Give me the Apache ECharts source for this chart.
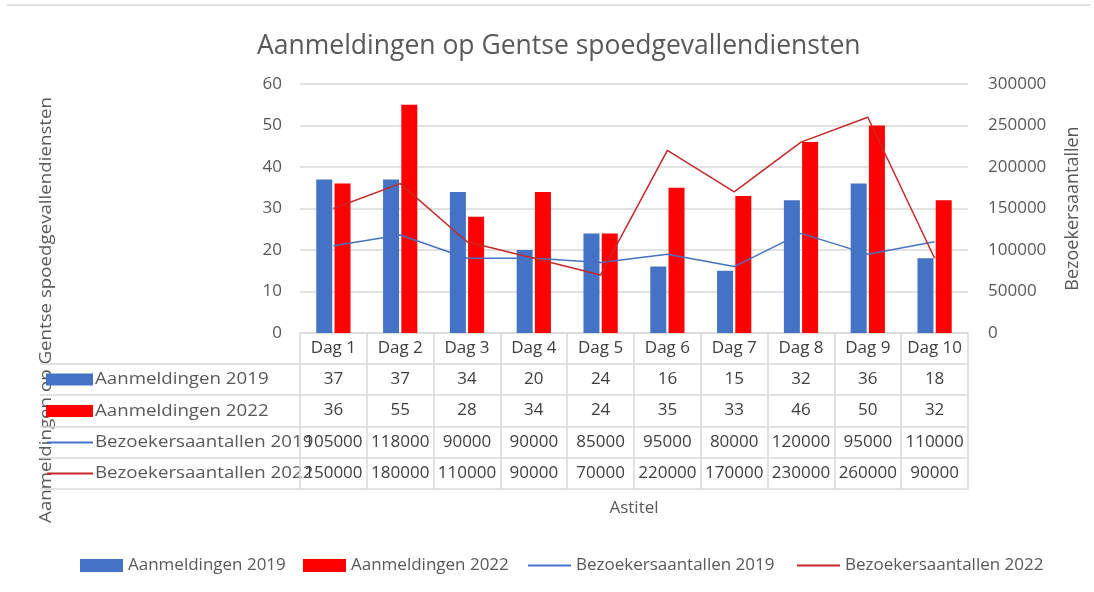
<!DOCTYPE html>
<html>
<head>
<meta charset="utf-8">
<script src="https://cdn.jsdelivr.net/npm/echarts@6/dist/echarts.min.js"></script>
<style>
  html, body { margin: 0; padding: 0; background: #fff; }
  #chart { width: 1094px; height: 592px; }
</style>
</head>
<body>
<div id="chart"></div>
<script>
// data
var days = ['Dag 1', 'Dag 2', 'Dag 3', 'Dag 4', 'Dag 5', 'Dag 6', 'Dag 7', 'Dag 8', 'Dag 9', 'Dag 10'];
var aanm2019 = [37, 37, 34, 20, 24, 16, 15, 32, 36, 18];
var aanm2022 = [36, 55, 28, 34, 24, 35, 33, 46, 50, 32];
var bez2019 = [105000, 118000, 90000, 90000, 85000, 95000, 80000, 120000, 95000, 110000];
var bez2022 = [150000, 180000, 110000, 90000, 70000, 220000, 170000, 230000, 260000, 90000];
var seriesNames = ['Aanmeldingen 2019', 'Aanmeldingen 2022', 'Bezoekersaantallen 2019', 'Bezoekersaantallen 2022'];
var tableRows = [aanm2019, aanm2022, bez2019, bez2022];

var FONT = '"Open Sans", "Noto Sans", sans-serif';
var TXT = '#595959';
var LINE = '#d9d9d9';
var colors = ['#4472c4', '#ff0000', '#4472c4', '#c62828'];

var chart = echarts.init(document.getElementById('chart'));

// layout of plot + data table
var gLeft = 300, gRight = 968, gTop = 84, gBottom = 333;
var rowOffsets = [31, 62, 94, 125, 156]; // bottom edge of each table row, from axis line

// one category axis per table row, labels are the cell values
var xAxes = [{
    type: 'category',
    data: days,
    position: 'bottom',
    axisLine: {onZero: false, lineStyle: {color: LINE, width: 1.5}},
    axisTick: {show: true, interval: 0, length: rowOffsets[0], lineStyle: {color: LINE, width: 1.5}},
    axisLabel: {interval: 0, margin: 7, color: '#404040', fontSize: 17, fontFamily: FONT}
}];
tableRows.forEach(function (row, r) {
    xAxes.push({
        type: 'category',
        data: days,
        position: 'bottom',
        offset: rowOffsets[r],
        axisLine: {onZero: false, lineStyle: {color: LINE, width: 1.5}},
        axisTick: {show: true, interval: 0, length: rowOffsets[r + 1] - rowOffsets[r], lineStyle: {color: LINE, width: 1.5}},
        axisLabel: {
            interval: 0, margin: 7, color: '#404040', fontSize: 17, fontFamily: FONT,
            formatter: function (v, i) { return String(row[i]); }
        }
    });
});
xAxes.push({
    type: 'category',
    data: days,
    position: 'bottom',
    offset: rowOffsets[4],
    axisLine: {onZero: false, lineStyle: {color: LINE, width: 1.5}},
    axisTick: {show: false},
    axisLabel: {show: false}
});

// table row headers + borders on the left side
var graphics = [
    {type: 'line', shape: {x1: 7, y1: 5, x2: 1090, y2: 5}, style: {stroke: '#e4e4e4', lineWidth: 2}},
    {type: 'text', x: 46, y: 310, rotation: Math.PI / 2, scaleX: 1.1,
        style: {text: 'Aanmeldingen op Gentse spoedgevallendiensten', fill: TXT, font: '17px ' + FONT, align: 'center', verticalAlign: 'middle'}},
    {type: 'text', x: 634, y: 508,
        style: {text: 'Astitel', fill: TXT, font: '17px ' + FONT, align: 'center', verticalAlign: 'middle'}}
];
var rowTops = [0].concat(rowOffsets);
for (var r = 0; r < 4; r++) {
    var yTop = gBottom + rowTops[r + 1];
    var yBot = gBottom + rowTops[r + 2];
    var yMid = (yTop + yBot) / 2;
    graphics.push({type: 'line', shape: {x1: 40, y1: yTop, x2: gLeft, y2: yTop}, style: {stroke: LINE, lineWidth: 1.5}});
    if (r < 2) {
        graphics.push({type: 'rect', shape: {x: 46, y: yMid - 6, width: 47, height: 12}, style: {fill: colors[r]}});
    } else {
        graphics.push({type: 'line', shape: {x1: 47, y1: yMid, x2: 93, y2: yMid}, style: {stroke: colors[r], lineWidth: 2}});
    }
    graphics.push({type: 'text', x: 95, y: yMid, scaleX: 1.1,
        style: {text: seriesNames[r], fill: TXT, font: '17px ' + FONT, verticalAlign: 'middle'}});
}
graphics.push({type: 'line', shape: {x1: 40, y1: gBottom + rowOffsets[4], x2: gLeft, y2: gBottom + rowOffsets[4]}, style: {stroke: LINE, lineWidth: 1.5}});

// one legend per item, so each key sits where it does in the original
var legendLefts = [80, 303, 528, 797];
var lineIcon = 'path://M0,0 M0,13 M0,5.6 L43,5.6 L43,7.4 L0,7.4 Z';
var legends = seriesNames.map(function (name, i) {
    return {
        left: legendLefts[i],
        top: 557,
        padding: 0,
        itemWidth: 43,
        itemHeight: 13,
        textStyle: {color: TXT, fontSize: 17, fontFamily: FONT},
        data: [{name: name, icon: i < 2 ? 'rect' : lineIcon}]
    };
});

var option = {
    backgroundColor: '#fff',
    textStyle: {fontFamily: FONT},
    title: {
        text: 'Aanmeldingen op Gentse spoedgevallendiensten',
        left: 252,
        top: 28,
        textStyle: {color: TXT, fontSize: 26.5, fontWeight: 'normal', fontFamily: FONT}
    },
    legend: legends,
    grid: {left: gLeft, right: 1094 - gRight, top: gTop, bottom: 592 - gBottom},
    xAxis: xAxes,
    yAxis: [{
        type: 'value',
        min: 0, max: 60, interval: 10,
        axisLine: {show: false},
        axisTick: {show: false},
        axisLabel: {color: TXT, fontSize: 17, margin: 18, fontFamily: FONT},
        splitLine: {lineStyle: {color: LINE, width: 1.5}}
    }, {
        type: 'value',
        min: 0, max: 300000, interval: 50000,
        position: 'right',
        name: 'Bezoekersaantallen',
        nameLocation: 'middle',
        nameRotate: 90,
        nameGap: 96,
        nameTextStyle: {color: TXT, fontSize: 18, fontFamily: FONT},
        axisLine: {show: false},
        axisTick: {show: false},
        axisLabel: {
            color: TXT, fontSize: 17, margin: 20, fontFamily: FONT,
            formatter: function (v) { return String(v); }
        },
        splitLine: {show: false}
    }],
    series: [{
        name: seriesNames[0],
        type: 'bar',
        data: aanm2019,
        barWidth: 16,
        barGap: '14%',
        itemStyle: {color: colors[0]}
    }, {
        name: seriesNames[1],
        type: 'bar',
        data: aanm2022,
        barWidth: 16,
        itemStyle: {color: colors[1]}
    }, {
        name: seriesNames[2],
        type: 'line',
        yAxisIndex: 1,
        data: bez2019,
        symbol: 'none',
        lineStyle: {color: colors[2], width: 1.5},
        itemStyle: {color: colors[2]}
    }, {
        name: seriesNames[3],
        type: 'line',
        yAxisIndex: 1,
        data: bez2022,
        symbol: 'none',
        lineStyle: {color: colors[3], width: 1.5},
        itemStyle: {color: colors[3]}
    }],
    graphic: graphics
};
chart.setOption(option);
</script>
</body>
</html>
